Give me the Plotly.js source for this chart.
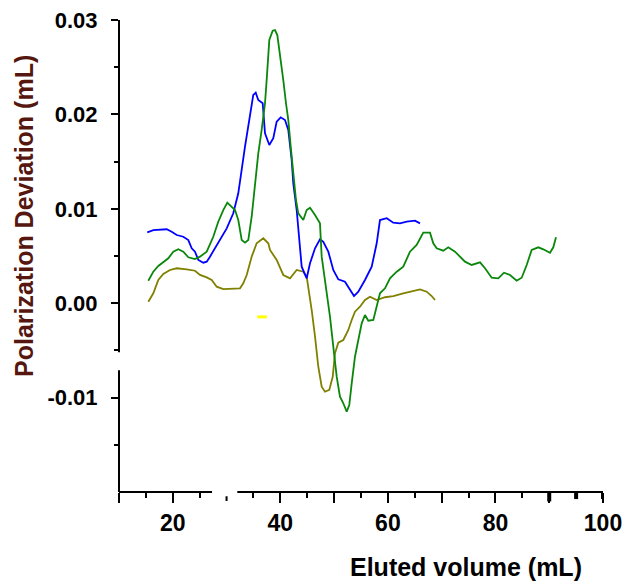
<!DOCTYPE html>
<html>
<head>
<meta charset="utf-8">
<script src="https://cdn.plot.ly/plotly-3.0.1.min.js"></script>
<style>
html,body{margin:0;padding:0;background:#fff;}
#chart{width:626px;height:583px;}
</style>
</head>
<body>
<div id="chart"></div>
<script>
// Eluted volume (mL) and polarization deviation (values in units of 1e-3 mL)
const blueX = [15.26,16.38,18.87,19.80,20.73,21.96,22.89,23.52,24.13,24.75,25.68,26.31,26.92,28.46,30.03,31.25,32.18,33.43,34.36,34.97,35.42,35.90,36.72,37.15,37.95,38.69,39.32,40.07,40.87,41.48,42.11,42.41,43.04,43.50,43.97,44.90,45.52,46.45,47.37,47.99,48.92,49.85,50.78,52.02,52.95,53.70,54.50,55.74,56.99,57.92,58.53,59.78,61.00,62.25,63.50,65.04,65.97];
const blueY = [7.51,7.75,7.83,7.57,7.22,7.04,6.69,5.82,5.46,4.58,4.29,4.40,4.93,6.35,7.93,9.52,11.64,16.58,20.12,22.06,22.30,21.53,21.18,18.00,16.76,17.47,19.23,19.69,19.41,18.35,15.17,12.70,9.87,6.40,3.87,2.64,4.23,5.82,6.77,6.51,5.46,3.52,2.53,2.28,1.40,0.76,1.22,2.46,3.87,6.35,8.81,9.00,8.53,8.46,8.63,8.74,8.46];

const greenX = [15.45,16.38,17.31,18.24,19.17,20.10,21.03,21.96,22.89,24.13,25.06,26.31,27.53,28.46,29.39,30.14,30.96,31.57,32.18,32.82,33.43,34.04,34.67,35.29,35.90,36.53,37.15,37.46,37.95,38.58,39.01,39.44,39.94,40.55,41.05,41.48,41.93,42.41,42.91,43.34,44.27,44.90,45.52,46.45,47.37,47.69,48.62,49.23,49.85,50.48,51.09,51.71,52.34,52.82,53.27,53.88,54.50,55.13,55.74,56.36,57.29,57.92,58.53,59.46,60.39,61.64,62.86,64.11,65.35,66.58,67.83,68.44,69.07,70.30,71.23,72.48,73.41,74.34,75.58,77.13,78.06,79.30,80.53,81.59,82.71,83.95,84.88,85.81,86.74,87.97,88.90,90.14,90.76,91.26];
const greenY = [2.38,3.34,3.94,4.40,4.76,5.46,5.71,5.46,4.86,4.68,4.93,5.46,7.04,8.63,9.87,10.65,10.16,9.87,8.81,6.69,6.41,6.69,9.16,12.34,15.88,18.35,21.18,23.64,27.88,28.87,28.94,28.41,26.47,23.64,21.18,19.41,16.58,14.11,10.93,9.52,8.81,9.87,10.12,9.34,8.46,4.93,1.05,-1.43,-4.61,-7.78,-9.90,-10.60,-11.49,-10.78,-8.49,-5.67,-3.90,-2.13,-1.25,-1.85,-1.78,-0.37,1.05,1.58,2.64,3.34,3.87,5.46,6.17,7.47,7.47,6.35,5.82,5.56,5.92,5.46,4.93,4.40,4.05,4.33,3.70,2.70,2.64,3.23,2.99,2.38,2.70,4.05,5.64,5.92,5.71,5.35,5.92,6.98];

const oliveX = [15.45,16.38,17.31,18.24,19.48,20.73,22.59,24.13,25.06,26.31,27.24,28.17,29.39,30.96,32.50,33.11,33.75,34.67,35.60,36.83,37.76,38.08,39.32,40.55,41.80,43.04,44.27,44.90,45.20,45.83,46.45,47.06,47.69,48.30,49.10,49.74,50.16,50.78,51.71,52.64,53.27,53.88,54.81,55.74,56.67,57.92,59.46,61.00,62.86,64.72,65.97,67.21,68.14,68.76];
const oliveY = [0.16,1.05,2.46,3.09,3.52,3.70,3.59,3.44,2.99,2.74,2.46,1.75,1.50,1.58,1.58,2.11,2.99,4.93,6.35,6.88,6.35,5.64,4.58,2.99,2.64,3.52,3.34,2.81,1.75,-0.72,-3.55,-6.73,-8.85,-9.38,-9.19,-7.79,-5.31,-4.18,-3.90,-2.84,-1.78,-0.90,-0.37,0.34,0.69,0.34,0.63,0.76,1.05,1.32,1.47,1.22,0.76,0.34];

const yellowX = [35.7,37.5];
const yellowY = [-1.45,-1.45];

const xTickVals = [10,20,40,50,60,70,80,90,100];
const xTickText = ['','20','40','','60','','80','','100'];
const xMinorVals = [15,25,35,45,55,65,75,85,95];
const yTickVals = [-0.01,0,0.01,0.02,0.03];
const yTickText = ['-0.01','0.00','0.01','0.02','0.03'];
const yMinorVals = [-0.015,-0.005,0.005,0.015,0.025];

const scale = v => v.map(d => d/1000);

const traces = [
  {x: oliveX, y: scale(oliveY), mode:'lines', line:{color:'#808000', width:1.8}},
  {x: blueX, y: scale(blueY), mode:'lines', line:{color:'#0000ff', width:1.8}},
  {x: greenX, y: scale(greenY), mode:'lines', line:{color:'#0a870a', width:1.8}},
  {x: yellowX, y: scale(yellowY), mode:'lines', line:{color:'#ffff00', width:3}}
];

const FAM = 'Liberation Sans, Arial, sans-serif';

const layout = {
  width:626, height:583,
  margin:{l:119, r:23, t:20, b:91},
  paper_bgcolor:'#fff', plot_bgcolor:'#fff',
  showlegend:false,
  xaxis:{
    range:[10,100], showline:false, showgrid:false, zeroline:false,
    tickmode:'array', tickvals:xTickVals, ticktext:xTickText,
    ticks:'outside', ticklen:10, tickwidth:2, tickcolor:'#000',
    tickfont:{family:FAM, size:23, color:'#000', weight:'bold'},
    minor:{tickmode:'array', tickvals:xMinorVals, ticks:'outside', ticklen:5, tickwidth:2, tickcolor:'#000'}
  },
  yaxis:{
    range:[-0.02,0.03], showline:false, showgrid:false, zeroline:false,
    tickmode:'array', tickvals:yTickVals, ticktext:yTickText,
    ticks:'outside', ticklen:7, tickwidth:2, tickcolor:'#000',
    ticklabelstandoff:9,
    tickfont:{family:FAM, size:22, color:'#000', weight:'bold'},
    minor:{tickmode:'array', tickvals:yMinorVals, ticks:'outside', ticklen:4, tickwidth:2, tickcolor:'#000'}
  },
  shapes:[
    {type:'line', xref:'x', yref:'paper', x0:10, x1:27.3, y0:0, y1:0, line:{color:'#000', width:2}},
    {type:'line', xref:'x', yref:'paper', x0:32, x1:100, y0:0, y1:0, line:{color:'#000', width:2}},
    {type:'line', xref:'x', yref:'paper', x0:30, x1:30, y0:-0.009, y1:-0.019, line:{color:'#000', width:2}},
    {type:'line', xref:'paper', yref:'y', x0:0, x1:0, y0:-0.02, y1:-0.0071, line:{color:'#000', width:2}},
    {type:'line', xref:'paper', yref:'y', x0:0, x1:0, y0:-0.0052, y1:0.03, line:{color:'#000', width:2}},
    {type:'line', xref:'x', yref:'paper', x0:90, x1:90, y0:0, y1:-0.02, line:{color:'#000', width:4}},
    {type:'line', xref:'x', yref:'paper', x0:95, x1:95, y0:0, y1:-0.015, line:{color:'#000', width:4}},
    {type:'line', xref:'x', yref:'paper', x0:100, x1:100, y0:0, y1:-0.015, line:{color:'#000', width:4}}
  ],
  annotations:[
    {text:'Eluted volume (mL)', xref:'paper', yref:'paper', x:0.717, y:-0.159, showarrow:false,
     xanchor:'center', yanchor:'middle',
     font:{family:FAM, size:25, color:'#000', weight:'bold'}},
    {text:'Polarization Deviation (mL)', xref:'paper', yref:'paper', x:-0.196, y:0.585, showarrow:false,
     textangle:-90, xanchor:'center', yanchor:'middle',
     font:{family:FAM, size:25, color:'#55170f', weight:'bold'}}
  ]
};

Plotly.newPlot('chart', traces, layout, {displayModeBar:false, staticPlot:true});
</script>
</body>
</html>
